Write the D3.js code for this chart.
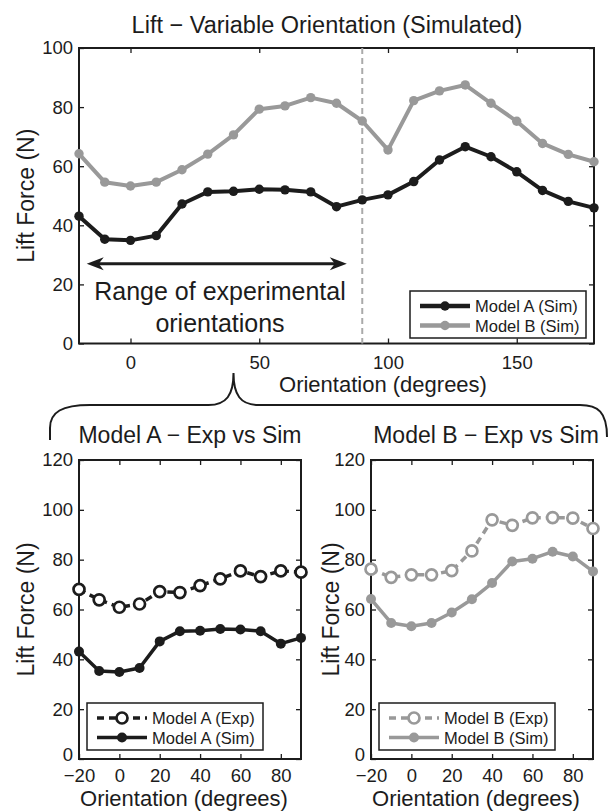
<!DOCTYPE html>
<html>
<head>
<meta charset="utf-8">
<script src="https://cdn.jsdelivr.net/npm/d3@7"></script>
<style>
  body { margin: 0; background: #fff; }
  svg { display: block; font-family: "Liberation Sans", Arial, sans-serif; }
</style>
</head>
<body>
<svg id="fig" width="610" height="811"></svg>
<script>
// Orientation sweep (degrees) used by the simulations
const orientSim = [-20, -10, 0, 10, 20, 30, 40, 50, 60, 70, 80, 90, 100, 110, 120, 130, 140, 150, 160, 170, 180];
const simA = [43.1, 35.3, 34.9, 36.5, 47.2, 51.3, 51.5, 52.2, 52.0, 51.3, 46.3, 48.6, 50.3, 54.8, 62.1, 66.6, 63.2, 58.1, 51.8, 48.1, 45.9];
const simB = [64.2, 54.6, 53.3, 54.6, 58.8, 64.1, 70.6, 79.3, 80.4, 83.2, 81.3, 75.3, 65.5, 82.2, 85.5, 87.5, 81.3, 75.2, 67.7, 64.0, 61.5];

// Experimental orientations (subset -20..90)
const orientExp = [-20, -10, 0, 10, 20, 30, 40, 50, 60, 70, 80, 90];
const expA = [68.1, 63.9, 60.9, 62.2, 67.2, 66.8, 69.6, 72.3, 75.5, 73.2, 75.5, 75.0];
const expB = [76.2, 72.9, 73.9, 73.9, 75.6, 83.5, 96.0, 93.8, 96.8, 96.9, 96.7, 92.5];

const xTicksTop = [0, 50, 100, 150];
const yTicksTop = [0, 20, 40, 60, 80, 100];
const xTicksBottom = [-20, 0, 20, 40, 60, 80];
const yTicksBottom = [0, 20, 40, 60, 80, 100, 120];

const expRange = [-17, 84];   // arrow span (degrees)
const expRangeY = 27;         // arrow height (N)
const boundary = 90;          // dashed line
const braceTip = 40;          // where the brace points to

const INK = "#1c1c1c";
const GREY = "#999999";

const svg = d3.select("#fig");

function panel(box, xDomain, yDomain, xTicks, yTicks, labelPad) {
    const x = d3.scaleLinear().domain(xDomain).range([box.left, box.right]);
    const y = d3.scaleLinear().domain(yDomain).range([box.bottom, box.top]);
    const g = svg.append("g");

    const tick = 5;
    g.append("g")
        .attr("transform", `translate(0,${box.bottom})`)
        .call(d3.axisBottom(x).tickValues(xTicks).tickSize(-tick).tickSizeOuter(0).tickPadding(labelPad).tickFormat(d => d < 0 ? "\u2212" + (-d) : d));
    g.append("g")
        .attr("transform", `translate(0,${box.top})`)
        .call(d3.axisTop(x).tickValues(xTicks).tickSize(-tick).tickSizeOuter(0).tickFormat(""));
    const yAxis = g.append("g")
        .attr("transform", `translate(${box.left},0)`)
        .call(d3.axisLeft(y).tickValues(yTicks).tickSize(-tick).tickSizeOuter(0).tickPadding(6));
    g.append("g")
        .attr("transform", `translate(${box.right},0)`)
        .call(d3.axisRight(y).tickValues(yTicks).tickSize(-tick).tickSizeOuter(0).tickFormat(""));

    g.selectAll(".domain").remove();
    g.selectAll(".tick line").attr("stroke", INK).attr("stroke-width", 1.3);
    g.selectAll(".tick text").attr("fill", INK).style("font-size", "18.5px");

    // the "0" of the y axis sits just above the first x label
    if (xTicks[0] === xDomain[0]) {
        yAxis.selectAll(".tick").filter(d => d === 0).select("text").attr("y", -4);
    }

    g.append("rect")
        .attr("x", box.left).attr("y", box.top)
        .attr("width", box.right - box.left).attr("height", box.bottom - box.top)
        .attr("fill", "none").attr("stroke", INK).attr("stroke-width", 2);

    return { x, y, g };
}

function series(p, xs, ys, color, opts) {
    const line = d3.line().x(d => p.x(d[0])).y(d => p.y(d[1]));
    const pts = xs.map((v, i) => [v, ys[i]]);
    p.g.append("path")
        .datum(pts)
        .attr("d", line)
        .attr("fill", "none")
        .attr("stroke", color)
        .attr("stroke-width", opts.width)
        .attr("stroke-linejoin", "round")
        .attr("stroke-dasharray", opts.dash || null);
    p.g.selectAll(null)
        .data(pts)
        .enter()
        .append("circle")
            .attr("cx", d => p.x(d[0]))
            .attr("cy", d => p.y(d[1]))
            .attr("r", opts.r)
            .attr("fill", opts.open ? "#fff" : color)
            .attr("stroke", color)
            .attr("stroke-width", opts.open ? 2.7 : 0);
}

function legend(lx, ly, items) {
    const g = svg.append("g").attr("transform", `translate(${lx},${ly})`);
    g.append("rect")
        .attr("width", 176).attr("height", 47)
        .attr("fill", "#fff").attr("stroke", INK).attr("stroke-width", 1.5);
    items.forEach((it, i) => {
        const yy = 15 + i * 19.5;
        g.append("line")
            .attr("x1", 10).attr("x2", 60).attr("y1", yy).attr("y2", yy)
            .attr("stroke", it.color).attr("stroke-width", it.width)
            .attr("stroke-dasharray", it.dash || null);
        g.append("circle")
            .attr("cx", 35).attr("cy", yy).attr("r", it.r)
            .attr("fill", it.open ? "#fff" : it.color)
            .attr("stroke", it.color).attr("stroke-width", it.open ? 2.7 : 0);
        g.append("text")
            .attr("x", 65).attr("y", yy + 6)
            .attr("fill", INK)
            .style("font-size", "16.5px")
            .text(it.label);
    });
}

function text(x, y, str, size, rotate) {
    const t = svg.append("text")
        .attr("text-anchor", "middle")
        .attr("fill", INK)
        .style("font-size", size + "px")
        .text(str);
    if (rotate) t.attr("transform", `translate(${x},${y}) rotate(-90)`);
    else t.attr("x", x).attr("y", y);
    return t;
}

// ---------- top panel ----------
const topBox = { left: 79, right: 594, top: 48, bottom: 343.5 };
const topP = panel(topBox, [-20, 180], [0, 100], xTicksTop, yTicksTop, 12.5);

topP.g.append("line")
    .attr("x1", topP.x(boundary)).attr("x2", topP.x(boundary))
    .attr("y1", topBox.top).attr("y2", topBox.bottom)
    .attr("stroke", "#aaaaaa").attr("stroke-width", 2)
    .attr("stroke-dasharray", "6,4");

series(topP, orientSim, simB, GREY, { width: 4, r: 4.7 });
series(topP, orientSim, simA, INK, { width: 4, r: 4.7 });

// double arrow for the experimental range
const ax1 = topP.x(expRange[0]), ax2 = topP.x(expRange[1]), ay = topP.y(expRangeY);
const head = 17, half = 6.5, notch = 5;
topP.g.append("line")
    .attr("x1", ax1 + 8).attr("x2", ax2 - 8).attr("y1", ay).attr("y2", ay)
    .attr("stroke", INK).attr("stroke-width", 3);
topP.g.append("path")
    .attr("d", `M${ax1},${ay} L${ax1 + head},${ay - half} L${ax1 + head - notch},${ay} L${ax1 + head},${ay + half} Z`)
    .attr("fill", INK);
topP.g.append("path")
    .attr("d", `M${ax2},${ay} L${ax2 - head},${ay - half} L${ax2 - head + notch},${ay} L${ax2 - head},${ay + half} Z`)
    .attr("fill", INK);

text(220, 300, "Range of experimental", 25);
text(220, 332, "orientations", 25);

legend(410, 291, [
    { label: "Model A (Sim)", color: INK, width: 4.5, r: 4.7 },
    { label: "Model B (Sim)", color: GREY, width: 4.5, r: 4.7 }
]);

text(327, 33, "Lift \u2212 Variable Orientation (Simulated)", 23.5);
text(383, 392, "Orientation (degrees)", 22);
text(34, (topBox.top + topBox.bottom) / 2, "Lift Force (N)", 23, true);

// brace linking the range to the lower panels
const bt = topP.x(braceTip);
const by = 405;
svg.append("path")
    .attr("d", `M50,440 L50,428 C50,412 62,${by} 90,${by} L${bt - 25},${by} C${bt - 7},${by} ${bt},${by - 10} ${bt},${by - 32}` +
               ` C${bt},${by - 10} ${bt + 7},${by} ${bt + 25},${by} L580,${by} C598,${by} 607,412 607,437`)
    .attr("fill", "none").attr("stroke", INK).attr("stroke-width", 2);

// ---------- bottom left ----------
const blBox = { left: 79, right: 301, top: 460, bottom: 759 };
const bl = panel(blBox, [-20, 90], [0, 120], xTicksBottom, yTicksBottom, 10);
series(bl, orientExp, simA.slice(0, orientExp.length), INK, { width: 3.5, r: 5 });
series(bl, orientExp, expA, INK, { width: 3.5, r: 5.5, open: true, dash: "7,5" });
legend(blBox.left + 8, 703, [
    { label: "Model A (Exp)", color: INK, width: 3.5, r: 5.5, open: true, dash: "7,5" },
    { label: "Model A (Sim)", color: INK, width: 3.5, r: 5 }
]);
text(190, 443, "Model A \u2212 Exp vs Sim", 23);
text(184, 806, "Orientation (degrees)", 22);
text(34, (blBox.top + blBox.bottom) / 2, "Lift Force (N)", 23, true);

// ---------- bottom right ----------
const brBox = { left: 371, right: 593, top: 460, bottom: 759 };
const br = panel(brBox, [-20, 90], [0, 120], xTicksBottom, yTicksBottom, 10);
series(br, orientExp, simB.slice(0, orientExp.length), GREY, { width: 3.5, r: 5 });
series(br, orientExp, expB, GREY, { width: 3.5, r: 5.5, open: true, dash: "7,5" });
legend(brBox.left + 8, 703, [
    { label: "Model B (Exp)", color: GREY, width: 3.5, r: 5.5, open: true, dash: "7,5" },
    { label: "Model B (Sim)", color: GREY, width: 3.5, r: 5 }
]);
text(486, 443, "Model B \u2212 Exp vs Sim", 23);
text(476, 806, "Orientation (degrees)", 22);
text(339, (brBox.top + brBox.bottom) / 2, "Lift Force (N)", 23, true);
</script>
</body>
</html>
